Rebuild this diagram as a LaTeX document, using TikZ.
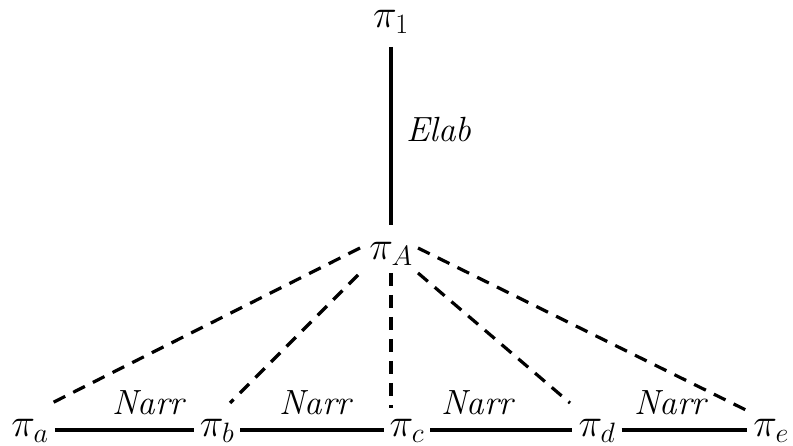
\RequirePackage{fix-cm}
\documentclass[tikz,border=0pt]{standalone}
\begin{document}
\begin{tikzpicture}[x=1pt,y=-1pt,
  pinode/.style={inner sep=6pt, font=\fontsize{40}{48}\selectfont},
  lab/.style={inner sep=0pt, font=\fontsize{35}{42}\selectfont\itshape},
  solidline/.style={line width=3.5pt},
  dashline/.style={line width=3.2pt, dash pattern=on 13pt off 9pt}]
\useasboundingbox (0,0) rectangle (793,446);
\node[pinode] (p1) at (391,22) {$\pi_1$};
\node[pinode] (pA) at (391,254) {$\pi_A$};
\node[pinode] (pa) at (30,431) {$\pi_a$};
\node[pinode] (pb) at (217,431) {$\pi_b$};
\node[pinode] (pc) at (407,431) {$\pi_c$};
\node[pinode] (pd) at (597,431) {$\pi_d$};
\node[pinode] (pe) at (771,431) {$\pi_e$};
\draw[solidline] (p1.south |- 0,47) -- (pA.north |- 0,225);
\node[lab] (elab) at (439,130) {Elab};
\draw[solidline] (pa.east |- 0,430) -- (pb.west |- 0,430);
\draw[solidline] (pb.east |- 0,430) -- (pc.west |- 0,430);
\draw[solidline] (pc.east |- 0,430) -- (pd.west |- 0,430);
\draw[solidline] (pd.east |- 0,430) -- (pe.west |- 0,430);
\node[lab] (n1) at (148,403) {Narr};
\node[lab] (n2) at (315,403) {Narr};
\node[lab] (n3) at (477,403) {Narr};
\node[lab] (n4) at (670,403) {Narr};
\coordinate (sa) at (360,248);
\coordinate (sb) at (358,275);
\coordinate (sc) at (391,273);
\coordinate (sd) at (418,273);
\coordinate (se) at (418,248);
\coordinate (ea) at (48,405);
\coordinate (eb) at (230,403);
\coordinate (ec) at (391,408);
\coordinate (ed) at (570,403);
\coordinate (ee) at (752,413);
\draw[dashline] (sa) -- (ea);
\draw[dashline] (sb) -- (eb);
\draw[dashline] (sc) -- (ec);
\draw[dashline] (sd) -- (ed);
\draw[dashline] (se) -- (ee);
\end{tikzpicture}
\end{document}
